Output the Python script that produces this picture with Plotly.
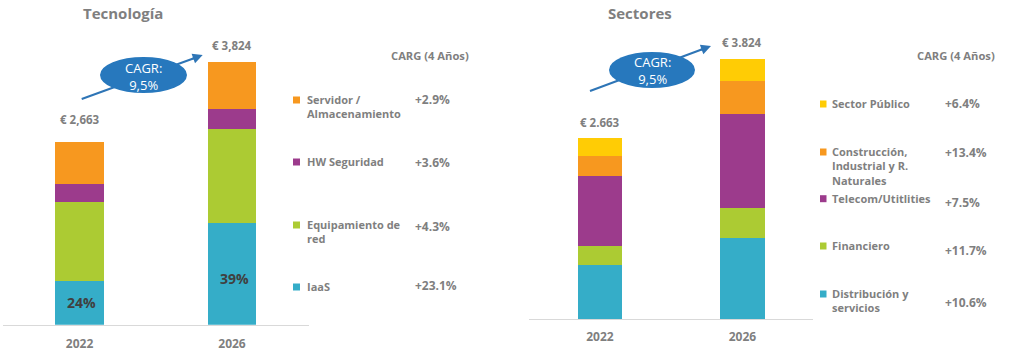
import plotly.graph_objects as go

W, H = 1022, 352

# ---------------- data ----------------
years = ["2022", "2026"]

tech_names = ["IaaS", "Equipamiento de<br>red", "HW Seguridad", "Servidor /<br>Almacenamiento"]
tech_iaas = [639, 1480]
tech_red = [1152, 1363]
tech_hw = [262, 295]
tech_serv = [610, 686]
tech_cagr = ["+23.1%", "+4.3%", "+3.6%", "+2.9%"]
tech_totals = ["€ 2,663", "€ 3,824"]

sec_names = ["Distribución y<br>servicios", "Financiero", "Telecom/Utitlities",
             "Construcción,<br>Industrial y R.<br>Naturales", "Sector Público"]
sec_dist = [797, 1194]
sec_fin = [279, 441]
sec_tel = [1027, 1376]
sec_con = [293, 489]
sec_pub = [264, 323]
sec_cagr = ["+10.6%", "+11.7%", "+7.5%", "+13.4%", "+6.4%"]
sec_totals = ["€ 2.663", "€ 3.824"]

cagr_label = "CAGR:<br>9,5%"
carg_header = "CARG (4 Años)"
titles = ["Tecnología", "Sectores"]

# ---------------- style ----------------
C_BLUE = "#35adc8"
C_GREEN = "#accb33"
C_PURPLE = "#9c3b8c"
C_ORANGE = "#f7981f"
C_YELLOW = "#ffcc05"
GRAY = "#7f7f7f"
DARK = "#404040"
ELL = "#2778bd"
ARR = "#2e75b6"
FONT = "Open Sans"

def px(x):
    return x / W

def py(y):
    return 1 - y / H

fig = go.Figure()

tech_series = [tech_iaas, tech_red, tech_hw, tech_serv]
tech_colors = [C_BLUE, C_GREEN, C_PURPLE, C_ORANGE]
for name, vals, col in zip(tech_names, tech_series, tech_colors):
    fig.add_trace(go.Bar(x=years, y=vals, name=name, marker_color=col,
                         marker_line_width=0, width=0.32,
                         xaxis="x", yaxis="y", showlegend=False))

sec_series = [sec_dist, sec_fin, sec_tel, sec_con, sec_pub]
sec_colors = [C_BLUE, C_GREEN, C_PURPLE, C_ORANGE, C_YELLOW]
for name, vals, col in zip(sec_names, sec_series, sec_colors):
    fig.add_trace(go.Bar(x=years, y=vals, name=name, marker_color=col,
                         marker_line_width=0, width=0.312,
                         xaxis="x2", yaxis="y2", showlegend=False))

tech_sum = [sum(v) for v in zip(*tech_series)]
sec_sum = [sum(v) for v in zip(*sec_series)]

ann = []
shapes = []

def text_ann(text, x, y, size, color=GRAY, xanchor="center", yanchor="middle", **kw):
    d = dict(text=text, x=x, y=y, xref=kw.pop("xref", "paper"), yref=kw.pop("yref", "paper"),
             xanchor=xanchor, yanchor=yanchor, showarrow=False,
             font=dict(size=size, color=color, family=FONT))
    d.update(kw)
    ann.append(d)

# titles
text_ann(f"<b>{titles[0]}</b>", px(123), py(13), 15)
text_ann(f"<b>{titles[1]}</b>", px(640), py(13), 15)

# totals
tot_shift_l = [22, 16]
for i, yr in enumerate(years):
    text_ann(f"<b>{tech_totals[i]}</b>", i, tech_sum[i], 11.5, xref="x", yref="y",
             yshift=tot_shift_l[i])
    text_ann(f"<b>{sec_totals[i]}</b>", i, sec_sum[i], 11.5, xref="x2", yref="y2", yshift=16)

# percentage labels in IaaS
pct_shift = [0, -5]
for i, yr in enumerate(years):
    pct = round(100 * tech_iaas[i] / tech_sum[i])
    text_ann(f"<b>{pct}%</b>", i, tech_iaas[i] / 2, 14, color=DARK, xref="x", yref="y",
             xshift=2, yshift=pct_shift[i])

# CARG headers
text_ann(f"<b>{carg_header}</b>", px(430), py(56), 11.2)
text_ann(f"<b>{carg_header}</b>", px(956), py(55), 11.2)

# legends (left)
leg_l_y = [287, 225, 162, 100]
leg_l_val_y = [285, 226, 162, 99]
for name, col, yy, vy, cg in zip(tech_names, tech_colors, leg_l_y, leg_l_val_y, tech_cagr):
    shapes.append(dict(type="rect", xref="paper", yref="paper", x0=px(293), x1=px(300),
                       y0=py(yy + 3.5), y1=py(yy - 3.5), fillcolor=col, line_width=0))
    text_ann(f"<b>{name}</b>", px(305), py(yy - 10), 11, xanchor="left", yanchor="top",
             align="left")
    text_ann(f"<b>{cg}</b>", px(413), py(vy), 12, xanchor="left")

# legends (right)
leg_r_y = [294, 246, 198.7, 152, 104]
leg_r_val_y = [302, 251, 202, 153, 104]
for name, col, yy, vy, cg in zip(sec_names, sec_colors, leg_r_y, leg_r_val_y, sec_cagr):
    shapes.append(dict(type="rect", xref="paper", yref="paper", x0=px(820), x1=px(826.5),
                       y0=py(yy + 3.5), y1=py(yy - 3.5), fillcolor=col, line_width=0))
    text_ann(f"<b>{name}</b>", px(830), py(yy - 10), 11, xanchor="left", yanchor="top",
             align="left")
    text_ann(f"<b>{cg}</b>", px(943), py(vy), 12, xanchor="left")

# CAGR arrows + ellipses
def cagr_badge(tail, head, ebox, center):
    shapes.append(dict(type="line", xref="paper", yref="paper",
                       x0=px(tail[0]), y0=py(tail[1]), x1=px(head[0] - 6), y1=py(head[1] + 2.2),
                       line=dict(color=ARR, width=2)))
    shapes.append(dict(type="circle", xref="paper", yref="paper",
                       x0=px(ebox[0]), x1=px(ebox[1]), y0=py(ebox[3]), y1=py(ebox[2]),
                       fillcolor=ELL, line=dict(color=ELL, width=0)))
    ann.append(dict(text="", x=px(head[0]), y=py(head[1]), xref="paper", yref="paper",
                    axref="pixel", ayref="pixel",
                    ax=-12, ay=4.4, showarrow=True, arrowhead=2, arrowsize=1,
                    arrowwidth=2, arrowcolor=ARR))
    text_ann(cagr_label, px(center[0]), py(center[1]), 13, color="white")

cagr_badge((81.7, 99), (202.7, 55), (100, 187, 57, 93), (143.5, 76))
cagr_badge((590, 91), (711, 46), (609, 695, 52, 88), (652, 70))

fig.update_layout(
    width=W, height=H, margin=dict(l=0, r=0, t=0, b=0),
    paper_bgcolor="white", plot_bgcolor="white",
    barmode="stack", showlegend=False,
    font=dict(family=FONT, color=GRAY),
    annotations=ann, shapes=shapes,
    xaxis=dict(domain=[px(3), px(309)], range=[-0.502, 1.505], type="category",
               showline=True, linecolor="#d9d9d9", linewidth=1, showgrid=False,
               ticks="", tickfont=dict(size=12, color=GRAY, family=FONT),
               ticklabelstandoff=8, anchor="y", fixedrange=True),
    yaxis=dict(domain=[py(324.7), 1], range=[0, 4724], visible=False, anchor="x",
               fixedrange=True),
    xaxis2=dict(domain=[px(529), px(813)], range=[-0.498, 1.495], type="category",
                showline=True, linecolor="#d9d9d9", linewidth=1, showgrid=False,
                ticks="", tickfont=dict(size=12, color=GRAY, family=FONT),
                ticklabelstandoff=6, anchor="y2", fixedrange=True),
    yaxis2=dict(domain=[py(319.3), 1], range=[0, 4687], visible=False, anchor="x2",
                fixedrange=True),
)
fig.update_xaxes(tickprefix="<b>", ticksuffix="</b>")

fig.write_html("out.html")
